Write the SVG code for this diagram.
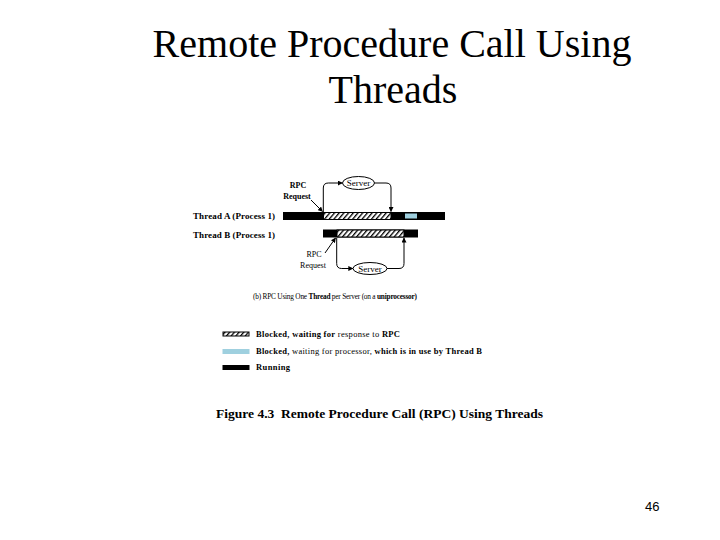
<svg xmlns="http://www.w3.org/2000/svg" width="720" height="540" viewBox="0 0 720 540">
<style>
.title{font-family:"Liberation Serif",serif;font-size:40px;fill:#000;text-anchor:middle}
.lbl{font-family:"Liberation Serif",serif;font-size:9px;font-weight:bold;fill:#000}
.srvt{font-family:"Liberation Serif",serif;font-size:9px;fill:#000;text-anchor:middle}
.sm{font-family:"Liberation Serif",serif;font-size:8px;fill:#000}
.cap{font-family:"Liberation Serif",serif;font-size:7.3px;fill:#000}
.leg{font-family:"Liberation Serif",serif;font-size:8.5px;fill:#000}
.b{font-weight:bold}
.conn{fill:none;stroke:#000;stroke-width:1}
.run{fill:#000}
.hatch{fill:url(#hp);stroke:#000;stroke-width:1}
.blue{fill:#9fd0df}
.srv{fill:#fff;stroke:#000;stroke-width:1}
</style>
<defs>
<pattern id="hp" patternUnits="userSpaceOnUse" width="3.6" height="4" patternTransform="rotate(40)">
<rect width="3.6" height="4" fill="#fff"/>
<rect width="1.3" height="4" fill="#000"/>
</pattern>
<marker id="ah" viewBox="0 0 10 10" refX="9" refY="5" markerWidth="5" markerHeight="5" orient="auto">
<path d="M0,0 L10,5 L0,10 z" fill="#000"/>
</marker>
</defs>
<rect width="720" height="540" fill="#fff"/>
<text class="title" x="392" y="57">Remote Procedure Call Using</text>
<text class="title" x="393" y="103">Threads</text>

<g id="threadA">
<text class="lbl" x="193" y="219" textLength="82">Thread A (Process 1)</text>
<rect class="run" x="283" y="212" width="162" height="8"/>
<rect class="hatch" x="323.5" y="212.5" width="67.5" height="7"/>
<rect class="blue" x="405" y="213.5" width="12" height="5"/>
</g>
<g id="threadB">
<text class="lbl" x="193" y="238" textLength="82">Thread B (Process 1)</text>
<rect class="run" x="323" y="229.5" width="95" height="8"/>
<rect class="hatch" x="337" y="230" width="67" height="7"/>
</g>
<g id="serverTop">
<ellipse class="srv" cx="358.5" cy="183" rx="16" ry="6.5"/>
<text class="srvt" x="358.5" y="186">Server</text>
</g>
<g id="serverBottom">
<ellipse class="srv" cx="370" cy="268.5" rx="17" ry="6"/>
<text class="srvt" x="370" y="271.5">Server</text>
</g>
<g id="rpcTop">
<text class="sm b" x="298" y="188" text-anchor="middle">RPC</text>
<text class="sm b" x="297" y="199" text-anchor="middle">Request</text>
</g>
<g id="rpcBottom">
<text class="sm" x="314" y="256.5" text-anchor="middle">RPC</text>
<text class="sm" x="313" y="268" text-anchor="middle">Request</text>
</g>
<g id="connectors">
<path class="conn" d="M311,200 L322.5,211.5" marker-end="url(#ah)"/>
<path class="conn" d="M323.3,212 V188 Q323.3,183 328.3,183 H342.3" marker-end="url(#ah)"/>
<path class="conn" d="M374.5,183 H386 Q391,183 391,188 V211.5" marker-end="url(#ah)"/>
<path class="conn" d="M325,253 L335.5,238" marker-end="url(#ah)"/>
<path class="conn" d="M336.7,238 V263.5 Q336.7,268.5 341.7,268.5 H352.8" marker-end="url(#ah)"/>
<path class="conn" d="M387,268.5 H399 Q404,268.5 404,263.5 V238" marker-end="url(#ah)"/>
</g>
<g id="caption">
<text class="cap" x="253" y="299" textLength="164">(b) RPC Using One <tspan class="b">Thread</tspan> per Server (on a <tspan class="b">uniprocessor)</tspan></text>
</g>
<g id="legend">
<rect class="hatch" x="223" y="332" width="26" height="4"/>
<rect class="blue" x="222.5" y="349" width="27" height="5"/>
<rect class="run" x="222.5" y="365" width="27" height="5"/>
<text class="leg" x="256" y="337" textLength="144"><tspan class="b">Blocked, waiting for</tspan> response to <tspan class="b">RPC</tspan></text>
<text class="leg" x="256" y="354" textLength="226"><tspan class="b">Blocked,</tspan> waiting for processor, <tspan class="b">which is in use by Thread B</tspan></text>
<text class="leg b" x="256" y="370" textLength="34">Running</text>
</g>
<text x="216" y="418" font-family="Liberation Serif,serif" font-size="13.5" font-weight="bold" textLength="327" xml:space="preserve">Figure 4.3  Remote Procedure Call (RPC) Using Threads</text>
<text x="645" y="511" font-family="Liberation Sans,sans-serif" font-size="13">46</text>
</svg>
